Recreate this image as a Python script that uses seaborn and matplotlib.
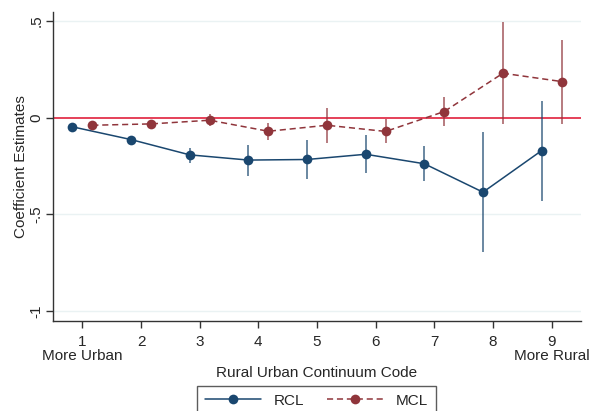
import pandas as pd
import seaborn as sns
import matplotlib.pyplot as plt
from matplotlib.lines import Line2D

# Rural Urban Continuum Code 1..9
codes = [1, 2, 3, 4, 5, 6, 7, 8, 9]

rcl_coef = [-0.048, -0.114, -0.193, -0.220, -0.217, -0.190, -0.239, -0.386, -0.171]
rcl_lo = [-0.056, -0.124, -0.234, -0.300, -0.317, -0.289, -0.329, -0.696, -0.430]
rcl_hi = [-0.040, -0.104, -0.157, -0.143, -0.114, -0.088, -0.148, -0.074, 0.088]

mcl_coef = [-0.040, -0.033, -0.014, -0.071, -0.040, -0.072, 0.031, 0.229, 0.186]
mcl_lo = [-0.048, -0.041, -0.045, -0.114, -0.134, -0.134, -0.045, -0.036, -0.033]
mcl_hi = [-0.032, -0.025, 0.016, -0.027, 0.050, -0.010, 0.107, 0.495, 0.403]

models = ['RCL', 'MCL']
offsets = {'RCL': -0.17, 'MCL': 0.17}
colors = {'RCL': '#1a476f', 'MCL': '#90353b'}

rows = []
for m, coef, lo, hi in [('RCL', rcl_coef, rcl_lo, rcl_hi), ('MCL', mcl_coef, mcl_lo, mcl_hi)]:
    for c, b, l, h in zip(codes, coef, lo, hi):
        rows.append({'model': m, 'code': c, 'x': c + offsets[m], 'coef': b, 'lo': l, 'hi': h})
df = pd.DataFrame(rows)

sns.set_theme(style='white')
plt.rcParams['font.family'] = ['Liberation Sans', 'DejaVu Sans']

fig = plt.figure(figsize=(5.91, 4.11), dpi=100)
ax = fig.add_axes([0.0897, 0.219, 0.8933, 0.752])

for yv in [0.5, -0.5, -1]:
    ax.axhline(yv, color='#eaf2f3', lw=1, zorder=0)
ax.axhline(0, color='#e0203c', lw=1.2, zorder=1)

# confidence intervals
for m in models:
    sub = df[df.model == m]
    ax.vlines(sub.x, sub.lo, sub.hi, color=colors[m], alpha=0.7, lw=1.3, zorder=2)

sns.lineplot(data=df, x='x', y='coef', hue='model', style='model',
             hue_order=models, style_order=models,
             palette=colors, dashes={'RCL': '', 'MCL': (4, 2.5)},
             markers={'RCL': 'o', 'MCL': 'o'}, markersize=7, markeredgewidth=0,
             lw=1.1, legend=False, ax=ax, zorder=3)

ax.set_xlim(0.5, 9.5)
ax.set_ylim(-1.052, 0.546)
ax.set_xticks(codes)
ax.set_xticklabels([str(c) for c in codes], fontsize=11)
ax.set_yticks([-1, -0.5, 0, 0.5])
ax.set_yticklabels(['-1', '-.5', '0', '.5'], fontsize=11, rotation=90, va='center')
ax.tick_params(axis='both', direction='out', length=5, width=1, color='#333333',
               bottom=True, left=True)
ax.tick_params(axis='x', pad=5)
ax.tick_params(axis='y', pad=2)
for s in ['top', 'right']:
    ax.spines[s].set_visible(False)
for s in ['left', 'bottom']:
    ax.spines[s].set_color('#333333')
    ax.spines[s].set_linewidth(1)

ax.set_ylabel('Coefficient Estimates', fontsize=11, labelpad=1)
ax.set_xlabel('Rural Urban Continuum Code', fontsize=11, labelpad=12)
ax.text(1, -1.235, 'More Urban', ha='center', va='center', fontsize=11)
ax.text(9, -1.235, 'More Rural', ha='center', va='center', fontsize=11)

handles = [Line2D([], [], color=colors['RCL'], lw=1.1, marker='o', markersize=7,
                  markeredgewidth=0),
           Line2D([], [], color=colors['MCL'], lw=1.1, ls=(0, (4, 2.5)), marker='o',
                  markersize=7, markeredgewidth=0)]
leg = fig.legend(handles, models, loc='upper center', bbox_to_anchor=(0.5355, 0.061),
                 ncol=2, fontsize=11, frameon=True, fancybox=False, handlelength=3.7,
                 columnspacing=1.5, borderpad=0.5, borderaxespad=0)
leg.get_frame().set_edgecolor('#333333')
leg.get_frame().set_linewidth(1)

fig.savefig('out.png', dpi=100)
